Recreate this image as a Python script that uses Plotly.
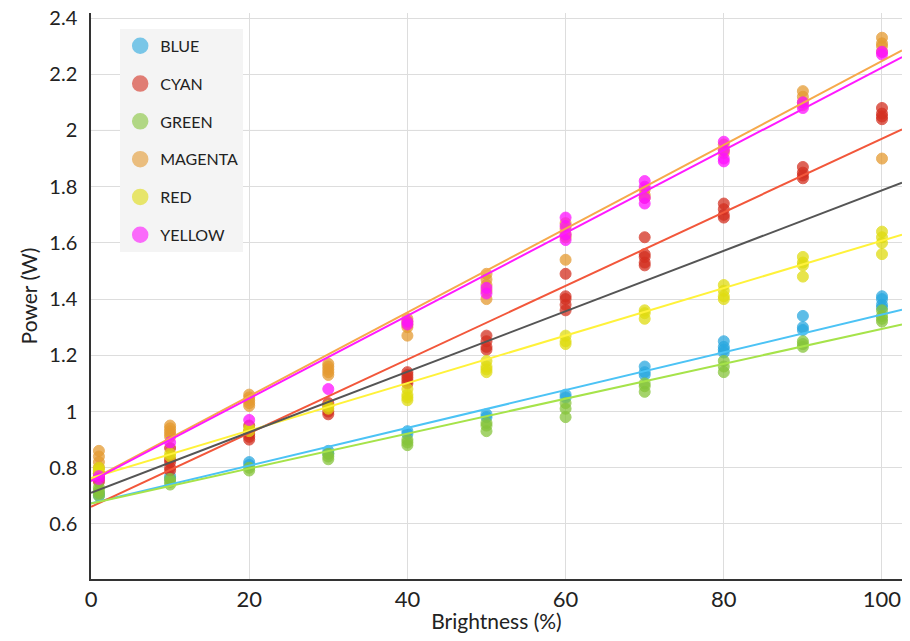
import numpy as np
import plotly.graph_objects as go

# brightness levels that were measured (%)
brightness = [1, 10, 20, 30, 40, 50, 60, 70, 80, 90, 100]

# power readings (W) per brightness level, one list per level
blue_power = [
    [0.70, 0.71], [0.76, 0.77], [0.81, 0.82], [0.85, 0.86], [0.92, 0.93],
    [0.98, 0.99], [1.05, 1.06], [1.13, 1.14, 1.16], [1.21, 1.22, 1.23, 1.25],
    [1.29, 1.30, 1.34], [1.37, 1.38, 1.40, 1.41],
]
cyan_power = [
    [0.75, 0.76, 0.77, 0.78], [0.79, 0.80, 0.82, 0.83, 0.87],
    [0.90, 0.91, 0.92, 0.93, 0.95], [0.99, 1.00, 1.02, 1.03],
    [1.10, 1.11, 1.12, 1.13, 1.14], [1.22, 1.23, 1.25, 1.27],
    [1.36, 1.38, 1.40, 1.41, 1.49], [1.52, 1.53, 1.55, 1.56, 1.62],
    [1.69, 1.70, 1.72, 1.74], [1.83, 1.84, 1.85, 1.87], [2.04, 2.05, 2.06, 2.08],
]
green_power = [
    [0.70, 0.71, 0.72, 0.73], [0.74, 0.75, 0.76], [0.79, 0.80],
    [0.83, 0.84, 0.85], [0.88, 0.89, 0.90], [0.93, 0.95, 0.96],
    [0.98, 1.01, 1.03], [1.07, 1.09, 1.10], [1.14, 1.16, 1.18],
    [1.23, 1.24, 1.25], [1.32, 1.33, 1.34, 1.36],
]
magenta_power = [
    [0.78, 0.80, 0.82, 0.84, 0.86], [0.91, 0.92, 0.93, 0.94, 0.95],
    [1.02, 1.03, 1.04, 1.05, 1.06], [1.13, 1.14, 1.15, 1.16, 1.17],
    [1.27, 1.30, 1.31, 1.32, 1.33], [1.40, 1.43, 1.45, 1.47, 1.49],
    [1.54, 1.62, 1.63, 1.65, 1.67], [1.76, 1.77, 1.79], [1.92, 1.93, 1.95],
    [2.09, 2.10, 2.12, 2.14], [1.90, 2.28, 2.30, 2.31, 2.33],
]
red_power = [
    [0.78, 0.79, 0.80], [0.84, 0.85], [0.93, 0.94], [1.01, 1.02],
    [1.04, 1.05, 1.06, 1.08], [1.14, 1.15, 1.16, 1.18], [1.24, 1.25, 1.27],
    [1.33, 1.35, 1.36], [1.40, 1.41, 1.43, 1.45], [1.48, 1.52, 1.53, 1.55],
    [1.56, 1.60, 1.62, 1.64],
]
yellow_power = [
    [0.76, 0.77], [0.89], [0.97], [1.08], [1.31, 1.32], [1.42, 1.44],
    [1.61, 1.63, 1.66, 1.69], [1.74, 1.76, 1.80, 1.82],
    [1.89, 1.90, 1.93, 1.96], [2.08, 2.10], [2.27, 2.28],
]

series_names = ["BLUE", "CYAN", "GREEN", "MAGENTA", "RED", "YELLOW"]

# linear trend lines as shown on the chart (intercept W, slope W per %)
fit_intercept = [0.673, 0.661, 0.673, 0.756, 0.763, 0.752]
fit_slope = [0.00672, 0.01310, 0.00621, 0.01491, 0.00845, 0.01472]
all_intercept = 0.711
all_slope = 0.01076
ref_level = 2.0

marker_colors = ["#29a8e0", "#d42f20", "#86c53a", "#e59a30", "#e0dc10", "#ff10ff"]
line_colors = ["#4cc3f5", "#f2573b", "#a6e34a", "#f6a94b", "#fff23a", "#ff1aff"]

readings = [blue_power, cyan_power, green_power, magenta_power, red_power, yellow_power]

x_max = 102.53
font = "Lato, 'Open Sans', sans-serif"

fig = go.Figure()

for name, vals, col in zip(series_names, readings, marker_colors):
    xs = [b for b, v in zip(brightness, vals) for _ in v]
    ys = [p for v in vals for p in v]
    fig.add_trace(go.Scatter(
        x=xs, y=ys, mode="markers", name=name, showlegend=False,
        marker=dict(size=11, color=col, opacity=0.75, line=dict(width=1, color=col)),
    ))

xl = np.array([0, x_max])
for name, b0, b1, col in zip(series_names, fit_intercept, fit_slope, line_colors):
    fig.add_trace(go.Scatter(x=xl, y=b0 + b1 * xl, mode="lines", showlegend=False,
                             line=dict(color=col, width=2), hoverinfo="skip"))
fig.add_trace(go.Scatter(x=xl, y=all_intercept + all_slope * xl, mode="lines",
                         showlegend=False, line=dict(color="#555555", width=2), hoverinfo="skip"))

# legend entries with bigger symbols
for name, col in zip(series_names, marker_colors):
    fig.add_trace(go.Scatter(
        x=[None], y=[None], mode="markers", name=name, legendgroup=name,
        marker=dict(size=15, color=col, opacity=0.6, line=dict(width=1.5, color=col)),
    ))

fig.add_hline(y=ref_level, line=dict(color="#999999", width=1), layer="below")

# page body has an 8px margin, so keep the figure inside the visible window
fig.update_layout(
    width=894, height=625,
    margin=dict(l=83, r=0, t=5, b=54, autoexpand=False),
    paper_bgcolor="white", plot_bgcolor="white",
    font=dict(family=font, color="#222222"),
    legend=dict(
        x=0.036, y=0.972, xanchor="left", yanchor="top",
        bgcolor="#f4f4f4", font=dict(size=16, color="#222222", family=font),
        traceorder="grouped", tracegroupgap=14, itemwidth=30,
    ),
    xaxis=dict(
        range=[0, x_max], tickvals=[0, 20, 40, 60, 80, 100],
        showgrid=True, gridcolor="#dddddd", zeroline=False, automargin=False,
        showline=True, linecolor="#333333", linewidth=1.5,
        tickfont=dict(size=22), ticks="", ticklabeloverflow="allow",
        title=dict(text="Brightness (%)", font=dict(size=21), standoff=0),
    ),
    yaxis=dict(
        range=[0.404, 2.418], tickvals=[0.6, 0.8, 1, 1.2, 1.4, 1.6, 1.8, 2, 2.2, 2.4],
        ticktext=["0.6", "0.8", "1", "1.2", "1.4", "1.6", "1.8", "2", "2.2", "2.4"],
        showgrid=True, gridcolor="#dddddd", zeroline=False, automargin=False,
        showline=True, linecolor="#333333", linewidth=1.5,
        tickfont=dict(size=20), ticks="", ticklabelstandoff=8, ticklabeloverflow="allow",
        title=dict(text="Power (W)", font=dict(size=21), standoff=6),
    ),
)

fig.write_html("out.html")
